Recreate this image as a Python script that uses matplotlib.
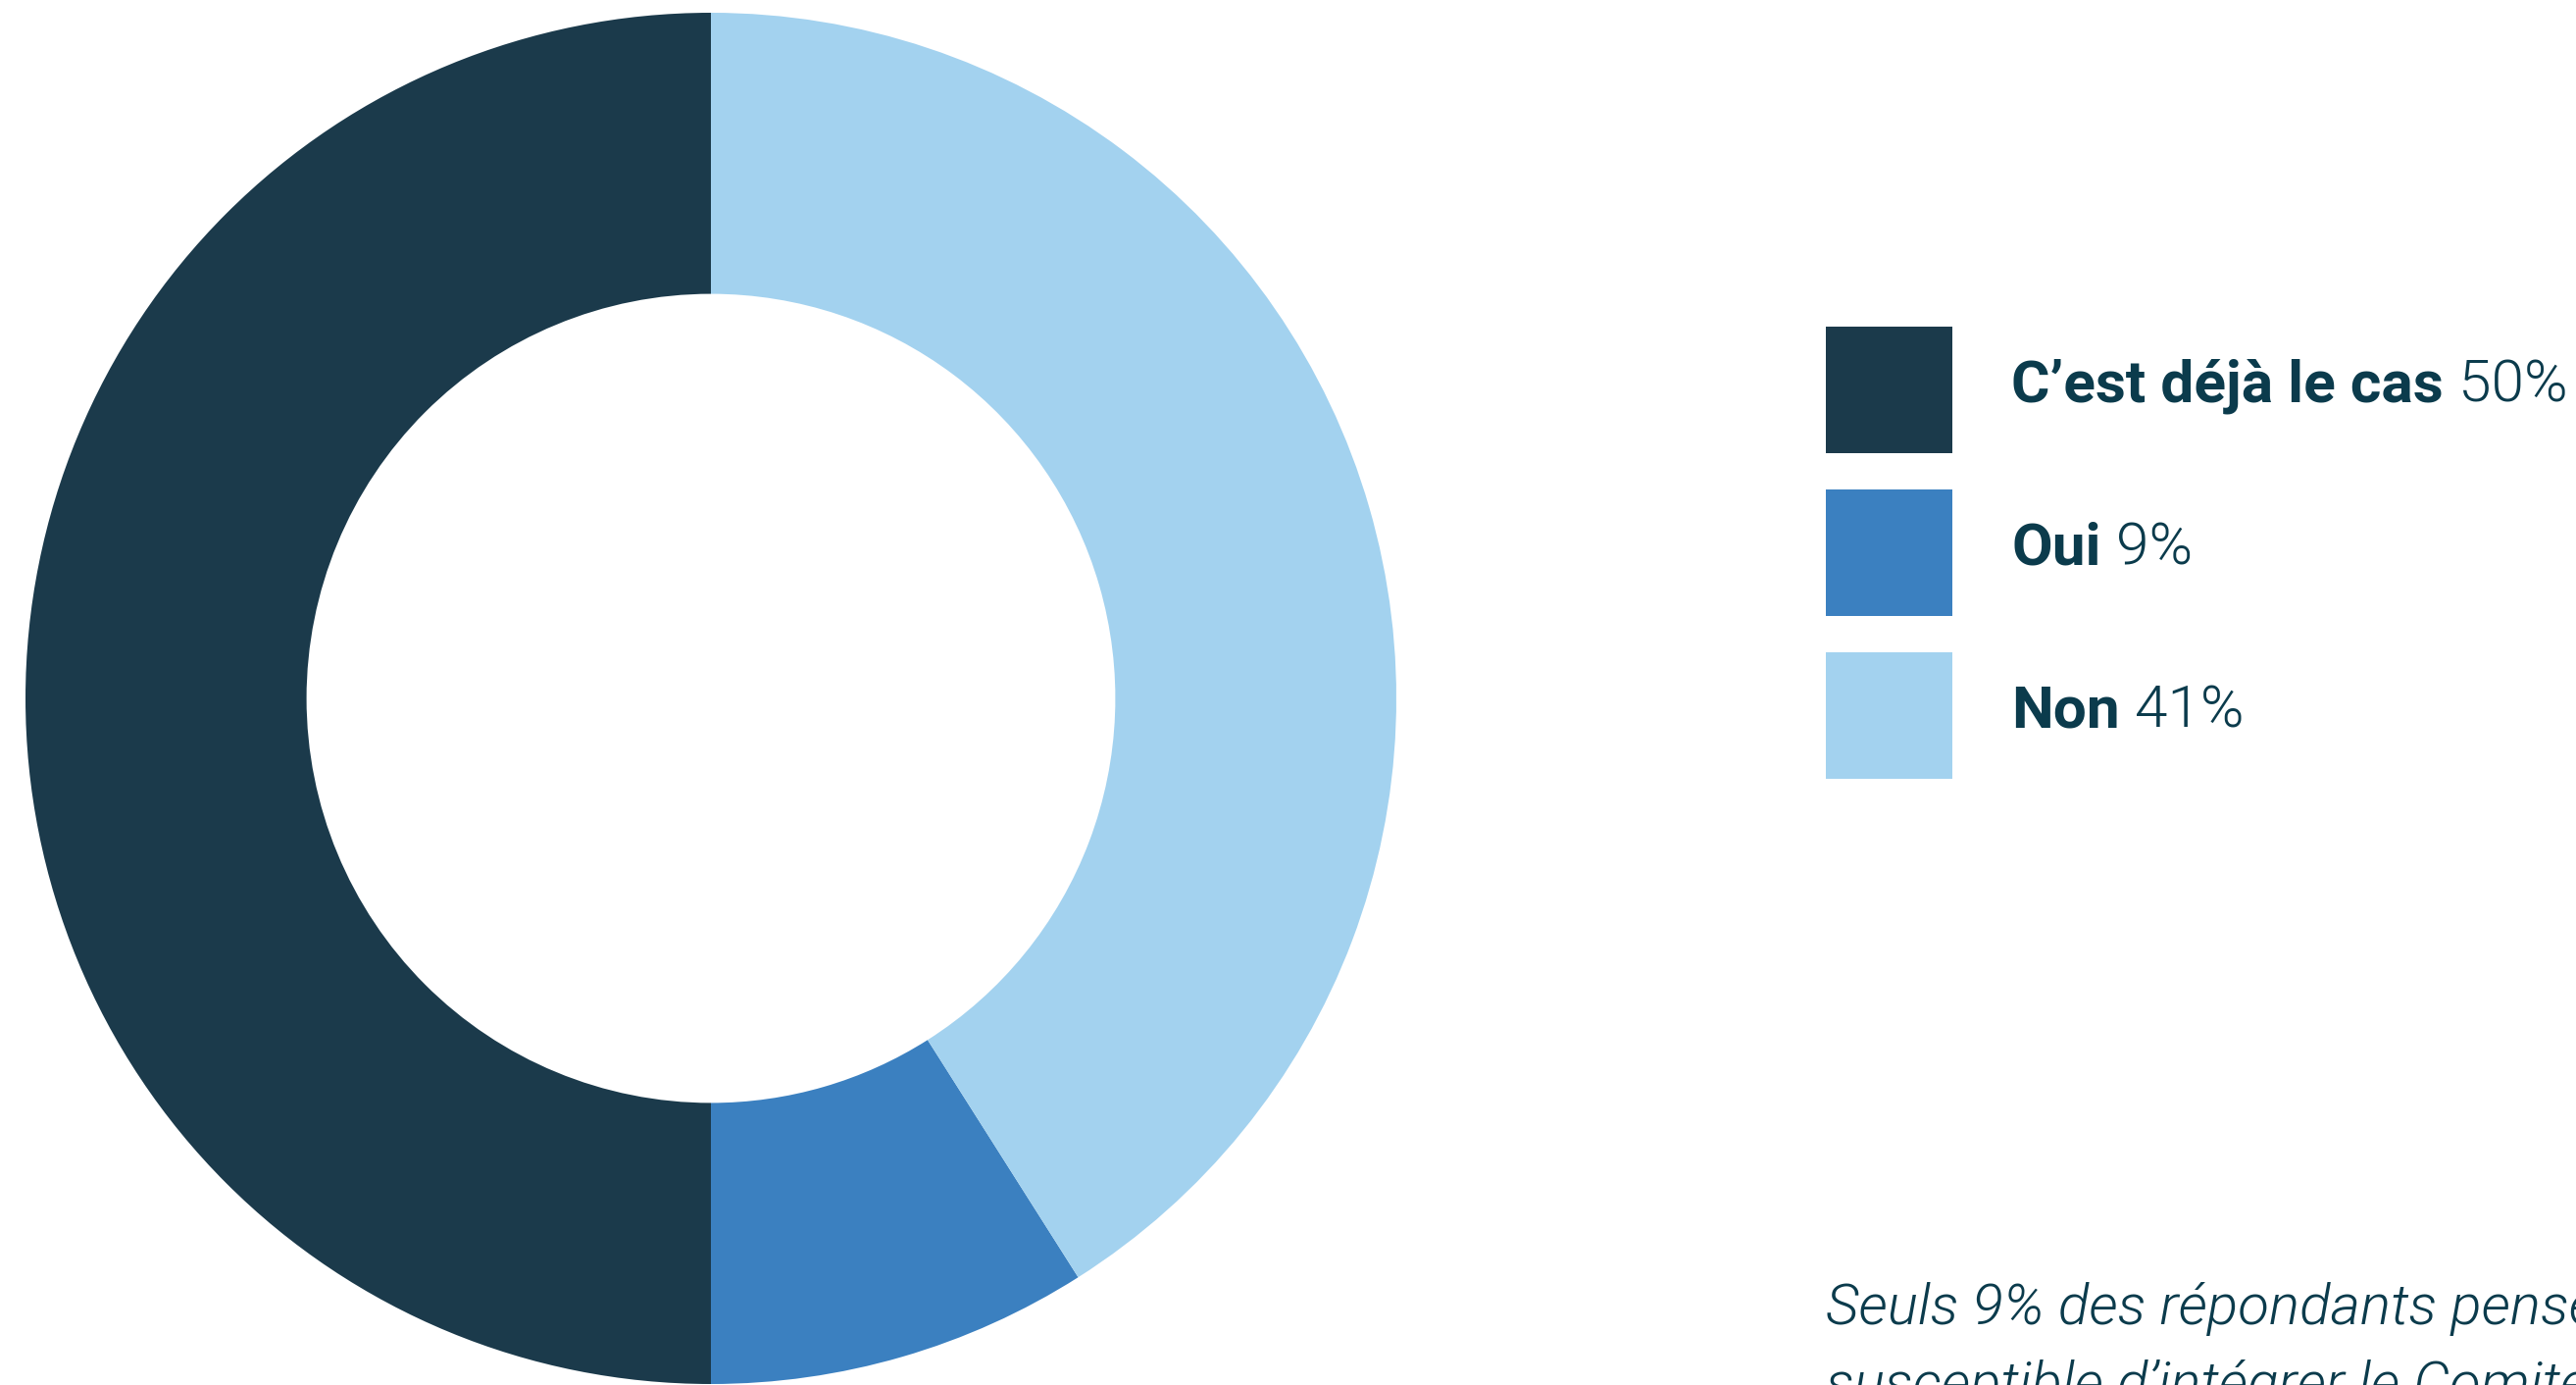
import matplotlib
matplotlib.use("Agg")
import matplotlib.pyplot as plt
from matplotlib.patches import Rectangle

# donnees
labels = ["C\u2019est déjà le cas", "Oui", "Non"]
values = [50, 9, 41]
colors = ["#1B3A4B", "#3B80C0", "#A3D2EF"]
note_lines = ["Seuls 9% des répondants pensent que ce profil est",
              "susceptible d\u2019intégrer le Comité exécutif"]

text_color = "#0B3B4C"
W, H = 2627, 1412
fig = plt.figure(figsize=(W / 100, H / 100), dpi=100)
fig.patch.set_facecolor("white")

# donut
cx, cy, R = 725, 712, 699
ax = fig.add_axes([(cx - R) / W, (H - cy - R) / H, 2 * R / W, 2 * R / H])
ax.pie(values, colors=colors, startangle=90, counterclock=True, radius=1,
       wedgeprops=dict(width=0.41, linewidth=0, edgecolor="none"))
ax.set_xlim(-1, 1)
ax.set_ylim(-1, 1)
ax.set_aspect("equal")
ax.axis("off")

# legende (coordonnees en pixels, origine en haut)
lax = fig.add_axes([0, 0, 1, 1])
lax.set_xlim(0, W)
lax.set_ylim(H, 0)
lax.axis("off")

x0, y0, size, step = 1862, 333, 129, 166
for i, (lab, v, c) in enumerate(zip(labels, values, colors)):
    y = y0 + i * step
    lax.add_patch(Rectangle((x0, y), size, size, facecolor=c, edgecolor="none"))
    t = lax.text(2051, y + size / 2 + 12, lab, fontsize=43.5, fontfamily="Roboto",
                 fontweight="bold", color=text_color, va="baseline", ha="left")
    # 300 = Roboto Light ("light" pointerait vers Thin)
    lax.annotate(f"{v}%", xy=(1, 0), xycoords=t, xytext=(11, 0),
                 textcoords="offset points", fontsize=43.5, fontfamily="Roboto",
                 fontweight=300, color=text_color, va="bottom", ha="left")

for j, line in enumerate(note_lines):
    lax.text(1862, 1350 + j * 80, line, fontsize=42, fontfamily="Roboto",
             fontweight=300, fontstyle="italic", color=text_color,
             va="baseline", ha="left", clip_on=False)

fig.savefig("out.png", dpi=100)
